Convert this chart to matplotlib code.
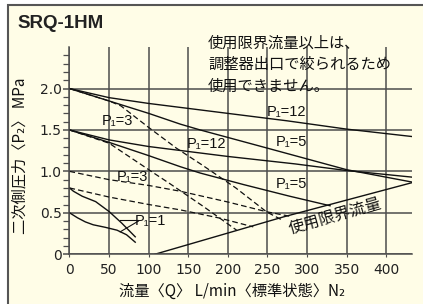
import numpy as np
import matplotlib.pyplot as plt
from matplotlib.patches import Rectangle

plt.rcParams['font.family'] = ['DejaVu Sans']
JP = ['Noto Sans CJK JP', 'DejaVu Sans']

# P1=12 / P1=5 solid lines and P1=3 dashed lines, from set pressure 2.0
q_12a = [0, 50, 100, 150, 200, 275, 350, 433]
p_12a = [2.0, 1.89, 1.82, 1.76, 1.70, 1.61, 1.51, 1.42]
q_5a = [0, 50, 100, 140, 165, 250, 350, 433]
p_5a = [2.0, 1.85, 1.70, 1.57, 1.50, 1.28, 1.02, 0.87]
q_3a = [0, 50, 65, 100, 135, 167, 210, 249, 267]
p_3a = [2.0, 1.85, 1.79, 1.53, 1.28, 1.08, 0.80, 0.51, 0.42]

# from set pressure 1.5
q_12b = [0, 50, 100, 150, 200, 285, 350, 433]
p_12b = [1.5, 1.38, 1.30, 1.24, 1.18, 1.09, 1.01, 0.93]
q_5b = [0, 50, 100, 140, 165, 220, 278, 329]
p_5b = [1.5, 1.35, 1.19, 1.056, 0.98, 0.84, 0.70, 0.585]
q_3b = [0, 50, 104, 127, 170, 211]
p_3b = [1.5, 1.34, 0.995, 0.85, 0.57, 0.29]

# P1=3 dashed from 1.0 and 0.8
q_3c = [0, 50, 100, 140, 200, 250, 280]
p_3c = [1.0, 0.90, 0.83, 0.76, 0.63, 0.51, 0.455]
q_3d = [0, 50, 100, 140, 190, 232]
p_3d = [0.8, 0.69, 0.60, 0.535, 0.435, 0.33]

# P1=1 solid curves
q_1a = [0, 5, 16, 33, 50, 66, 83]
p_1a = [0.80, 0.76, 0.70, 0.635, 0.515, 0.375, 0.21]
q_1b = [0, 10, 20, 30, 45, 60, 72, 83]
p_1b = [0.50, 0.44, 0.39, 0.355, 0.325, 0.29, 0.235, 0.145]

# usage limit flow line
q_lim = [108, 270, 433]
p_lim = [0.0, 0.45, 0.865]

xticks = [0, 50, 100, 150, 200, 250, 300, 350, 400]
yticks = [0, 0.5, 1.0, 1.5, 2.0]
ylabels = ['0', '0.5', '1.0', '1.5', '2.0']

bg = '#fffde7'
gc = '#4d4d4d'
lc = '#111111'

fig = plt.figure(figsize=(4.23, 3.04), dpi=100, facecolor='white')
fig.patches.append(Rectangle((8 / 423, -0.05), 1.0, 1 - 5 / 304 + 0.05,
                             transform=fig.transFigure, fc=bg, ec='#555555',
                             lw=1.5, zorder=-1))
ax = fig.add_axes([0.1643, 0.1638, 0.975 - 0.1643, 0.845 - 0.1638])
ax.set_facecolor('none')

ax.set_xlim(0, 433)
ax.set_ylim(0, 2.5)
ax.set_xticks(xticks)
ax.set_yticks(yticks)
ax.set_yticklabels(ylabels)
ax.set_yticks(np.arange(0.1, 2.5, 0.1), minor=True)
ax.grid(True, which='major', color=gc, lw=1.1)
ax.tick_params(axis='x', length=2, color=gc, labelsize=10, pad=4, labelcolor='#222222')
ax.tick_params(axis='y', which='major', length=4, color=gc, labelsize=10, pad=1.5,
               width=1.1, labelcolor='#222222')
ax.tick_params(axis='y', which='minor', length=4, color=gc, width=0.9)
for s in ['top', 'right']:
    ax.spines[s].set_visible(False)
for s in ['left', 'bottom']:
    ax.spines[s].set_color(gc)
    ax.spines[s].set_linewidth(1.1)

lw = 1.0
dash = (4.5, 2.5)
for q, p in [(q_12a, p_12a), (q_5a, p_5a), (q_12b, p_12b), (q_5b, p_5b),
             (q_1a, p_1a), (q_1b, p_1b), (q_lim, p_lim)]:
    ax.plot(q, p, color=lc, lw=lw)
for q, p in [(q_3a, p_3a), (q_3b, p_3b), (q_3c, p_3c), (q_3d, p_3d)]:
    ax.plot(q, p, color=lc, lw=0.9, dashes=dash)

lab = dict(fontsize=10.5, ha='center', va='center', color=lc, family=['Liberation Sans', 'DejaVu Sans'])
ax.text(60, 1.61, 'P₁=3', **lab)
ax.text(173, 1.33, 'P₁=12', **lab)
ax.text(274, 1.72, 'P₁=12', **lab)
ax.text(280, 1.35, 'P₁=5', **lab)
ax.text(280, 0.85, 'P₁=5', **lab)
ax.text(80, 0.93, 'P₁=3', **lab)
ax.text(102, 0.40, 'P₁=1', **lab)
ax.plot([64, 87], [0.41, 0.41], color=lc, lw=0.8)
ax.plot([64, 87], [0.27, 0.40], color=lc, lw=0.8)

ax.text(335, 0.456, '使用限界流量', fontsize=11.5, family=JP, rotation=16,
        ha='center', va='center', color=lc, rotation_mode='anchor')

fig.text(17 / 423, 1 - 24 / 304, 'SRQ-1HM', fontsize=13.5, fontweight='bold',
         family=['Liberation Sans', 'DejaVu Sans'], ha='left', va='center', color='#222222')
fig.text(208 / 423, 1 - 35 / 304, '使用限界流量以上は、\n調整器出口で絞られるため\n使用できません。',
         fontsize=11, family=JP, ha='left', va='top', linespacing=1.32, color=lc)
fig.text(232 / 423, 1 - 291 / 304, '流量〈Q〉 L/min〈標準状態〉N₂', fontsize=11,
         family=JP, ha='center', va='center', color=lc)
fig.text(20 / 423, 1 - 156 / 304, '二次側圧力〈P₂〉 MPa', fontsize=11, family=JP,
         rotation=90, ha='center', va='center', color=lc)

fig.savefig('out.png', dpi=100, facecolor='white')
